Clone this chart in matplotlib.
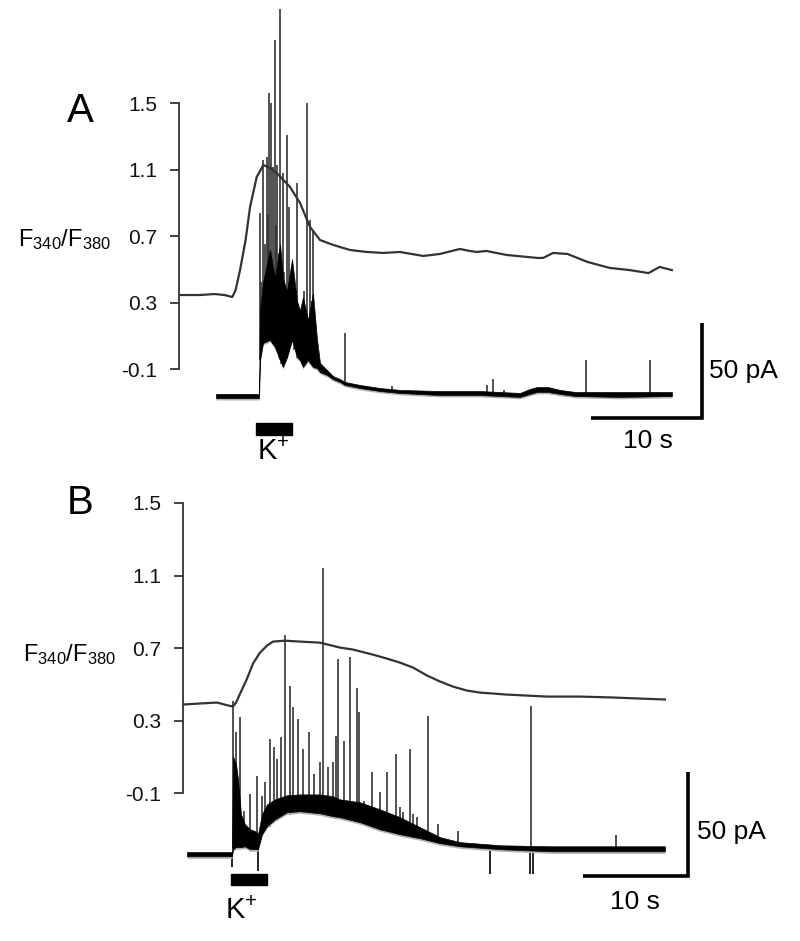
import numpy as np
import matplotlib.pyplot as plt

plt.rcParams['font.family'] = ['Liberation Sans', 'DejaVu Sans']
plt.rcParams['mathtext.default'] = 'regular'

W, H = 800, 941

# ---- panel A : F340/F380 ratio trace (s, ratio)
ca_a_t = [0, 1.9, 3.2, 4.1, 4.8, 5.1, 5.5, 6.0, 6.4, 7.0, 7.6, 8.2, 8.8, 10.0, 10.9,
          11.8, 12.7, 13.9, 15.4, 16.9, 18.4, 19.9, 22.0, 23.5, 25.3, 26.2, 26.8, 27.7,
          29.5, 32.3, 32.8, 33.7, 35.0, 36.8, 38.8, 40.6, 42.3, 43.3, 44.4]
ca_a = [0.345, 0.345, 0.351, 0.345, 0.333, 0.375, 0.495, 0.676, 0.874, 1.055, 1.127,
        1.109, 1.079, 0.995, 0.899, 0.755, 0.676, 0.646, 0.616, 0.604, 0.598, 0.604,
        0.580, 0.592, 0.622, 0.610, 0.604, 0.610, 0.586, 0.568, 0.568, 0.598, 0.592,
        0.544, 0.508, 0.495, 0.477, 0.514, 0.495]

# ---- panel A : current trace, noise band low/high (pA)
cur_a_t = [3.33, 7.21, 7.30, 7.57, 8.20, 8.65, 9.10, 9.37, 9.73, 10.18, 10.63, 10.90,
           11.17, 11.62, 12.07, 12.43, 12.70, 13.33, 13.87, 14.50, 14.95, 16.31, 18.11,
           19.91, 23.51, 27.12, 30.72, 31.62, 32.25, 33.24, 34.32, 35.68, 39.73, 44.41]
cur_a_lo = [-1.1, -1.1, 18.9, 27.9, 29.5, 25.8, 18.9, 15.3, 20.5, 29.5, 20.5, 18.9,
            15.3, 18.9, 15.3, 14.7, 12.6, 11.1, 8.9, 7.4, 5.8, 4.2, 2.6, 1.6, 0.5, 0.5,
            -0.5, 1.1, 2.1, 2.1, 1.1, 0.0, -0.5, 0.0]
cur_a_hi = [1.1, 1.1, 45.0, 60.0, 77.0, 62.0, 80.0, 62.0, 55.0, 72.0, 50.0, 45.0,
            52.0, 40.0, 54.0, 30.0, 17.4, 13.7, 10.5, 8.9, 7.4, 5.8, 4.2, 3.2, 2.6, 2.6,
            1.6, 3.7, 4.7, 4.7, 3.2, 2.1, 2.1, 2.1]

# ---- panel A : spikes (s, top pA, base pA)
spk_a_t = [7.30, 7.40, 7.57, 7.75, 7.93, 8.02, 8.11, 8.29, 8.40, 8.47, 8.65, 8.75, 8.83,
           9.00, 9.10, 9.20, 9.37, 9.50, 9.73, 9.85, 9.91, 10.05, 10.18, 10.40, 10.63,
           10.80, 11.08, 11.30, 11.53, 11.65, 11.80, 11.95, 12.07, 14.95, 19.19, 27.75,
           28.29, 29.28, 36.67, 42.43]
spk_a_top = [96.3, 60.0, 124.2, 80.0, 125.8, 95.0, 159.5, 154.2, 70.0, 120.5, 187.4,
             90.0, 121.6, 75.0, 203.7, 60.0, 117.4, 65.0, 137.4, 55.0, 99.5, 45.0, 67.9,
             50.0, 112.1, 40.0, 45.3, 55.0, 154.2, 40.0, 92.6, 50.0, 87.4, 33.2, 5.3,
             5.8, 8.9, 3.2, 18.9, 18.9]
spk_a_base = [19, 22, 28, 29, 29, 29, 29, 29, 28, 27, 26, 24, 23, 20, 19, 17, 15, 18,
              20, 22, 24, 27, 29, 24, 20, 19, 17, 17, 18, 18, 17, 16, 15, 6, 2, 1, 1,
              1, 1.5, 1.5]

# ---- panel B : ratio trace
ca_b_t = [0, 1.62, 3.24, 4.29, 4.76, 5.05, 5.62, 6.10, 6.67, 7.33, 8.0, 8.57, 9.71,
          11.14, 13.05, 14.95, 16.19, 18.10, 19.43, 20.67, 21.90, 23.24, 24.48, 25.71,
          27.05, 28.29, 30.86, 34.67, 37.81, 40.95, 43.52, 45.90]
ca_b = [0.389, 0.395, 0.400, 0.384, 0.378, 0.400, 0.472, 0.532, 0.615, 0.675, 0.714,
        0.736, 0.741, 0.736, 0.730, 0.703, 0.692, 0.664, 0.642, 0.620, 0.593, 0.549,
        0.516, 0.488, 0.466, 0.455, 0.444, 0.433, 0.433, 0.428, 0.422, 0.417]

# ---- panel B : current trace
cur_b_t = [0.38, 4.67, 4.76, 5.05, 5.24, 5.52, 5.90, 6.38, 6.86, 7.14, 7.52, 8.0, 8.76,
           9.90, 11.14, 13.05, 14.29, 14.95, 16.86, 18.76, 20.67, 22.57, 24.48, 26.38,
           30.19, 34.95, 39.71, 45.90]
cur_b_lo = [-1.0, -1.0, 2.4, 3.4, 3.4, 3.4, 3.8, 2.4, 2.4, 2.4, 9.6, 13.5, 16.8, 20.2,
            20.7, 19.7, 18.3, 17.8, 15.4, 12.0, 9.6, 7.7, 5.3, 3.8, 2.4, 1.4, 1.4, 1.4]
cur_b_hi = [1.0, 1.0, 47.1, 43.3, 36.1, 19.2, 14.4, 12.0, 11.1, 9.6, 19.2, 24.0, 26.4,
            28.4, 28.8, 28.8, 27.9, 26.4, 25.0, 21.6, 17.8, 13.0, 8.2, 5.8, 4.3, 3.8,
            3.8, 3.8]

spk_b_t = [4.76, 5.05, 5.43, 5.81, 6.38, 7.05, 7.52, 7.81, 8.29, 8.67, 8.95, 9.33, 9.71,
           10.19, 10.48, 10.95, 11.43, 12.0, 12.48, 13.05, 13.33, 13.81, 14.29, 14.57,
           14.76, 15.33, 15.90, 16.57, 16.76, 17.24, 18.0, 18.76, 19.43, 20.29, 20.67,
           20.95, 21.62, 21.90, 22.29, 23.33, 24.29, 26.19, 33.14, 41.24]
spk_b_top = [73.6, 58.7, 66.3, 20.7, 28.8, 37.5, 27.9, 34.6, 55.3, 51.4, 45.7, 56.3,
             105.8, 80.8, 70.7, 64.9, 50.5, 58.7, 38.5, 44.2, 138.0, 41.8, 44.2, 56.7,
             93.8, 54.3, 95.2, 80.3, 68.3, 25.5, 39.4, 29.8, 39.4, 48.1, 22.6, 20.2,
             50.5, 19.2, 17.8, 66.8, 14.4, 11.1, 71.6, 9.1]
spk_b_base = [3, 3, 3, 3, 3, 3, 9, 11, 13, 15, 16, 18, 19, 19, 20, 20, 20, 20, 20, 20,
              20, 20, 19, 19, 19, 18, 17, 16, 16, 15, 13, 12, 11, 10, 10, 9, 8, 8, 7.7,
              6.5, 5.3, 3.8, 1.6, 1.4]
dn_b_t = [4.67, 7.14, 29.24, 33.05, 33.33]
dn_b_bot = [-6.3, -8.2, -9.6, -9.6, -9.6]
dn_b_base = [0, 5, 2.4, 1.6, 1.6]

ratio_ticks = [-0.1, 0.3, 0.7, 1.1, 1.5]
ratio_labels = ['-0.1', '0.3', '0.7', '1.1', '1.5']


fig = plt.figure(figsize=(W / 100, H / 100), dpi=100)


def panel(left, top, xmax, r_lim, i_lim, ca_t, ca, ct, clo, chi,
          st, stop, sbase, bar_x, bar_y, kx, ky, dn=None):
    ax = fig.add_axes([left / W, 1 - (top + 470) / H, 600 / W, 470 / H])
    ax.set_xlim(0, xmax)
    ax.set_ylim(*i_lim)
    ax.axis('off')

    lo = np.array(clo)
    # spikes under the dense noise band
    ax.vlines(st, sbase, stop, color='0.2', lw=1.2, zorder=2)
    if dn is not None:
        ax.vlines(dn[0], dn[2], dn[1], color='black', lw=1.2, zorder=2)
    ax.fill_between(ct, lo - 1.0, lo, color='0.7', lw=0, zorder=3)
    ax.fill_between(ct, clo, chi, facecolor='black', edgecolor='black', lw=0.5,
                    zorder=4)

    # K+ application bar
    ax.broken_barh([(kx[0], kx[1] - kx[0])], (ky[0], ky[1] - ky[0]), color='black')

    # scale bars 10 s / 50 pA
    ax.plot([bar_x - 10, bar_x, bar_x], [bar_y, bar_y, bar_y + 50], color='black',
            lw=2.6, solid_capstyle='butt', solid_joinstyle='miter')

    ax2 = ax.twinx()
    ax2.set_ylim(*r_lim)
    ax2.plot(ca_t, ca, color='#333333', lw=1.6)
    for s in ['top', 'right', 'bottom']:
        ax2.spines[s].set_visible(False)
    ax2.spines['left'].set_visible(True)
    ax2.spines['left'].set_bounds(-0.1, 1.5)
    ax2.spines['left'].set_color('#333333')
    ax2.spines['left'].set_linewidth(1.3)
    ax2.yaxis.set_ticks_position('left')
    ax2.set_yticks(ratio_ticks)
    ax2.set_yticklabels(ratio_labels, fontsize=15, color='#111111')
    ax2.tick_params(axis='y', which='both', length=6.5, width=1.3, pad=9,
                    color='#333333')
    ax2.set_xticks([])
    return ax


panel(179, 0, 600 / 11.1, (-0.7075, 2.1196), (-38.95, 208.42),
      ca_a_t, ca_a, cur_a_t, cur_a_lo, cur_a_hi,
      spk_a_t, spk_a_top, spk_a_base,
      47.12, -11.6, (6.94, 10.18), (-20.5, -14.2))

panel(183, 470, 600 / 10.5, (-0.9082, 1.6814), (-41.35, 185.1),
      ca_b_t, ca_b, cur_b_t, cur_b_lo, cur_b_hi,
      spk_b_t, spk_b_top, spk_b_base,
      48.1, -10.6, (4.57, 8.0), (-14.9, -9.6),
      dn=(dn_b_t, dn_b_bot, dn_b_base))


def ftext(x, y, s, **kw):
    fig.text(x / W, 1 - y / H, s, **kw)


ylabel = r'F$_{340}$/F$_{380}$'
ftext(80, 111, 'A', fontsize=29, ha='center', va='center')
ftext(80, 503, 'B', fontsize=29, ha='center', va='center')
ftext(111, 240, ylabel, fontsize=17, ha='right', va='center')
ftext(116, 655, ylabel, fontsize=17, ha='right', va='center')
ftext(273, 452, r'K$^{+}$', fontsize=21, ha='center', va='center')
ftext(241, 911, r'K$^{+}$', fontsize=21, ha='center', va='center')
ftext(648, 441, '10 s', fontsize=19, ha='center', va='center')
ftext(635, 902, '10 s', fontsize=19, ha='center', va='center')
ftext(709, 371, '50 pA', fontsize=19, ha='left', va='center')
ftext(697, 832, '50 pA', fontsize=19, ha='left', va='center')

fig.savefig('out.png', dpi=100)
